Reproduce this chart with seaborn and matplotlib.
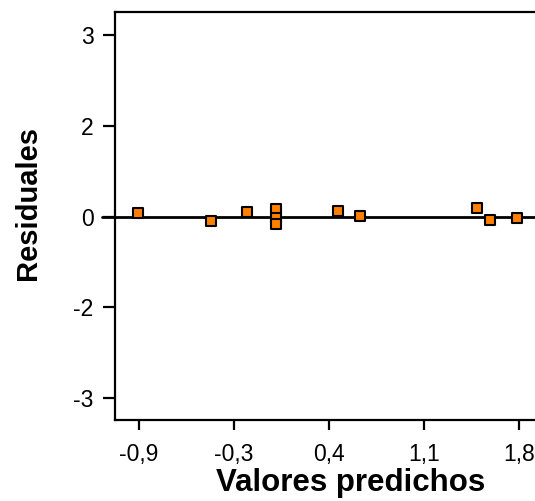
import matplotlib
matplotlib.use("Agg")
import matplotlib.pyplot as plt
import seaborn as sns
import pandas as pd

# Predicted values and residuals of the fitted model
predichos = [-0.96, -0.42, -0.15, 0.06, 0.06, 0.06, 0.52, 0.68, 1.54, 1.64, 1.84]
residuales = [0.06, -0.07, 0.07, 0.13, -0.03, -0.12, 0.09, 0.01, 0.14, -0.06, -0.02]

# Axis ticks (labels rounded as printed)
x_ticks = [-0.95, -0.25, 0.45, 1.15, 1.85]
x_labels = ["-0,9", "-0,3", "0,4", "1,1", "1,8"]
y_ticks = [-3, -1.5, 0, 1.5, 3]
y_labels = ["-3", "-2", "0", "2", "3"]

df = pd.DataFrame({"pred": predichos, "res": residuales})

sns.set_theme(style="white")
plt.rcParams["font.family"] = ["Liberation Sans", "DejaVu Sans"]

fig = plt.figure(figsize=(5.35, 5.01), dpi=100)
ax = fig.add_axes([115 / 535, 1 - 420 / 501, 1 - 115 / 535, (420 - 12) / 501])

ax.axhline(0, color="black", lw=2, zorder=1, xmin=-0.03, clip_on=False)
sns.scatterplot(data=df, x="pred", y="res", marker="s", s=42, color="#ff8000",
                edgecolor="black", linewidth=1.5, ax=ax, zorder=3)

ax.set_xlim(-1.127, 1.97)
ax.set_ylim(-3.36, 3.38)
ax.set_xticks(x_ticks)
ax.set_xticklabels(x_labels)
ax.set_yticks(y_ticks)
ax.set_yticklabels(y_labels)

for side in ["left", "bottom", "top"]:
    ax.spines[side].set_visible(True)
    ax.spines[side].set_color("black")
    ax.spines[side].set_linewidth(1.6)
ax.spines["right"].set_visible(False)

ax.tick_params(axis="x", which="major", direction="out", length=7.5, width=1.6,
               colors="black", labelcolor="black", labelsize=16.5, pad=9, bottom=True)
ax.tick_params(axis="y", which="major", direction="out", length=8.5, width=1.6,
               colors="black", labelcolor="black", labelsize=16.5, pad=7, left=True)
ax.set_xlabel("Valores predichos", fontsize=22.5, fontweight="bold", color="black")
ax.set_ylabel("Residuales", fontsize=21, fontweight="bold", color="black")
ax.xaxis.label.set_va("top")
ax.xaxis.set_label_coords(0.56, -0.118)
ax.yaxis.label.set_va("center")
ax.yaxis.set_label_coords(-0.207, 0.532)

fig.savefig("out.png", dpi=100)
